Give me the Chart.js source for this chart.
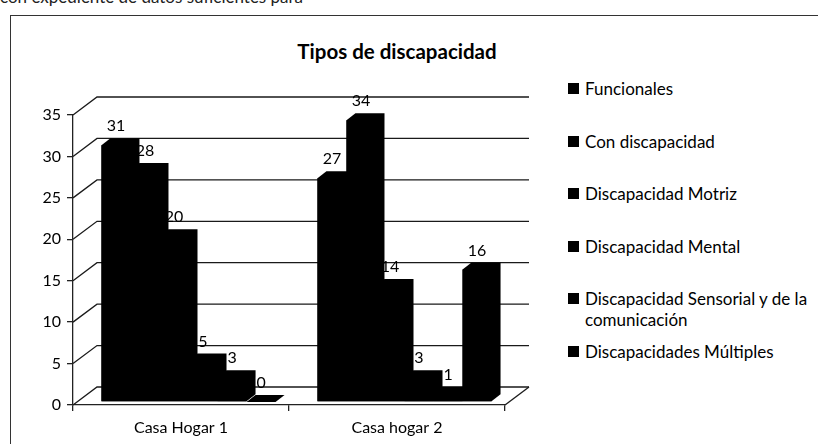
<!DOCTYPE html>
<html>
<head>
<meta charset="utf-8">
<script src="https://cdn.jsdelivr.net/npm/chart.js@4.4.1/dist/chart.umd.min.js"></script>
<style>
  html, body { margin: 0; padding: 0; background: #fff; }
  #wrap { position: relative; width: 818px; height: 444px; overflow: hidden; font-family: Lato, "Noto Sans", sans-serif; color: #000; }
  #frame { position: absolute; left: 10px; top: 15px; width: 820px; height: 440px; border-left: 1.5px solid #333; border-top: 1.5px solid #333; }
  #topline { position: absolute; left: 0; top: -14px; font-size: 17px; white-space: nowrap; color: #222; }
  #title { position: absolute; left: 197px; width: 400px; top: 39px; text-align: center; font-weight: bold; font-size: 20.5px; }
  #legend { position: absolute; left: 568px; top: 78px; width: 250px; }
  .item { position: relative; height: 52.6px; font-size: 17px; line-height: 21px; }
  .sw { position: absolute; left: 0; top: 5px; width: 11px; height: 11px; background: #000; }
  .tx { position: absolute; left: 17px; top: 0; width: 234px; }
  canvas { position: absolute; left: 0; top: 0; }
</style>
</head>
<body>
<div id="wrap">
  <div id="topline">con expediente de datos suficientes para</div>
  <div id="frame"></div>
  <div id="title"></div>
  <div id="legend"></div>
  <canvas id="c" width="818" height="444"></canvas>
</div>
<script>
const chartTitle = "Tipos de discapacidad";
const categories = ["Casa Hogar 1", "Casa hogar 2"];
const seriesNames = [
  "Funcionales",
  "Con discapacidad",
  "Discapacidad Motriz",
  "Discapacidad Mental",
  "Discapacidad Sensorial y de la comunicación",
  "Discapacidades Múltiples"
];
const funcionales = [31, 27];
const conDiscapacidad = [28, 34];
const motriz = [20, 14];
const mental = [5, 3];
const sensorial = [3, 1];
const multiples = [0, 16];
const seriesValues = [funcionales, conDiscapacidad, motriz, mental, sensorial, multiples];
const yTicks = [0, 5, 10, 15, 20, 25, 30, 35];

document.getElementById('title').textContent = chartTitle;
const legendEl = document.getElementById('legend');
seriesNames.forEach(n => {
  const it = document.createElement('div'); it.className = 'item';
  const sw = document.createElement('div'); sw.className = 'sw';
  const tx = document.createElement('div'); tx.className = 'tx'; tx.textContent = n;
  it.appendChild(sw); it.appendChild(tx); legendEl.appendChild(it);
});

const FONT = { family: 'Lato, "Noto Sans", sans-serif', size: 16 };
const DEPTH_X = 24, DEPTH_Y = 18;      // wall depth
const BAR_DX = 7.5, BAR_DY = -3;       // bar placement shift
const BD_X = 9, BD_Y = 7;              // bar depth

const wallPlugin = {
  id: 'wall',
  beforeDatasetsDraw(chart) {
    const ctx = chart.ctx, y = chart.scales.y, a = chart.chartArea;
    ctx.save();
    ctx.strokeStyle = '#1a1a1a';
    ctx.lineWidth = 1.3;
    yTicks.forEach(v => {
      const py = y.getPixelForValue(v);
      ctx.beginPath();
      ctx.moveTo(a.left, py);
      ctx.lineTo(a.left + DEPTH_X, py - DEPTH_Y);
      ctx.lineTo(a.right + DEPTH_X, py - DEPTH_Y);
      ctx.stroke();
    });
    const p0 = y.getPixelForValue(0);
    ctx.beginPath();
    ctx.moveTo(a.right, p0);
    ctx.lineTo(a.right + DEPTH_X, p0 - DEPTH_Y);
    ctx.stroke();
    ctx.restore();
    ctx.save();
    ctx.translate(BAR_DX, BAR_DY);
  },
  afterDatasetsDraw(chart) {
    const ctx = chart.ctx;
    ctx.fillStyle = '#000';
    chart.data.datasets.forEach((ds, i) => {
      const meta = chart.getDatasetMeta(i);
      meta.data.forEach(el => {
        const p = el.getProps(['x', 'y', 'base', 'width'], true);
        const L = p.x - p.width / 2, R = p.x + p.width / 2;
        ctx.beginPath();
        ctx.moveTo(L, p.y);
        ctx.lineTo(L + BD_X, p.y - BD_Y);
        ctx.lineTo(R + BD_X, p.y - BD_Y);
        ctx.lineTo(R + BD_X, p.base - BD_Y);
        ctx.lineTo(R, p.base);
        ctx.lineTo(L, p.base);
        ctx.closePath();
        ctx.fill();
      });
    });
    ctx.restore();
    ctx.save();
    ctx.fillStyle = '#000';
    ctx.font = FONT.size + 'px ' + FONT.family;
    ctx.textAlign = 'center';
    ctx.textBaseline = 'middle';
    chart.data.datasets.forEach((ds, i) => {
      const meta = chart.getDatasetMeta(i);
      meta.data.forEach((el, j) => {
        const p = el.getProps(['x', 'y'], true);
        ctx.fillText(String(ds.data[j]), p.x + BAR_DX, p.y + BAR_DY - 19);
      });
    });
    ctx.restore();
  }
};

new Chart(document.getElementById('c'), {
  type: 'bar',
  data: {
    labels: categories,
    datasets: seriesNames.map((n, i) => ({
      label: n,
      data: seriesValues[i],
      backgroundColor: '#000',
      borderWidth: 0,
      categoryPercentage: 0.806,
      barPercentage: 1.0,
      clip: false
    }))
  },
  options: {
    responsive: false,
    animation: false,
    events: [],
    layout: { padding: { left: 0, top: 115, right: 313, bottom: 0 } },
    plugins: { legend: { display: false }, title: { display: false }, tooltip: { enabled: false } },
    scales: {
      x: {
        grid: { display: true, drawOnChartArea: false, drawTicks: true, tickLength: 6, color: '#222', lineWidth: 1.3 },
        border: { display: true, color: '#222', width: 1.3 },
        ticks: { color: '#000', font: FONT, padding: 7 },
        afterFit(s) { s.height = 39; }
      },
      y: {
        min: 0, max: 35,
        afterBuildTicks(s) { s.ticks = yTicks.map(v => ({ value: v })); },
        grid: { display: true, drawOnChartArea: false, drawTicks: true, tickLength: 6, color: '#222', lineWidth: 1.3 },
        border: { display: true, color: '#222', width: 1.3 },
        ticks: { color: '#000', font: FONT, padding: 6 },
        afterFit(s) { s.width = 73; }
      }
    }
  },
  plugins: [wallPlugin]
});
</script>
</body>
</html>
